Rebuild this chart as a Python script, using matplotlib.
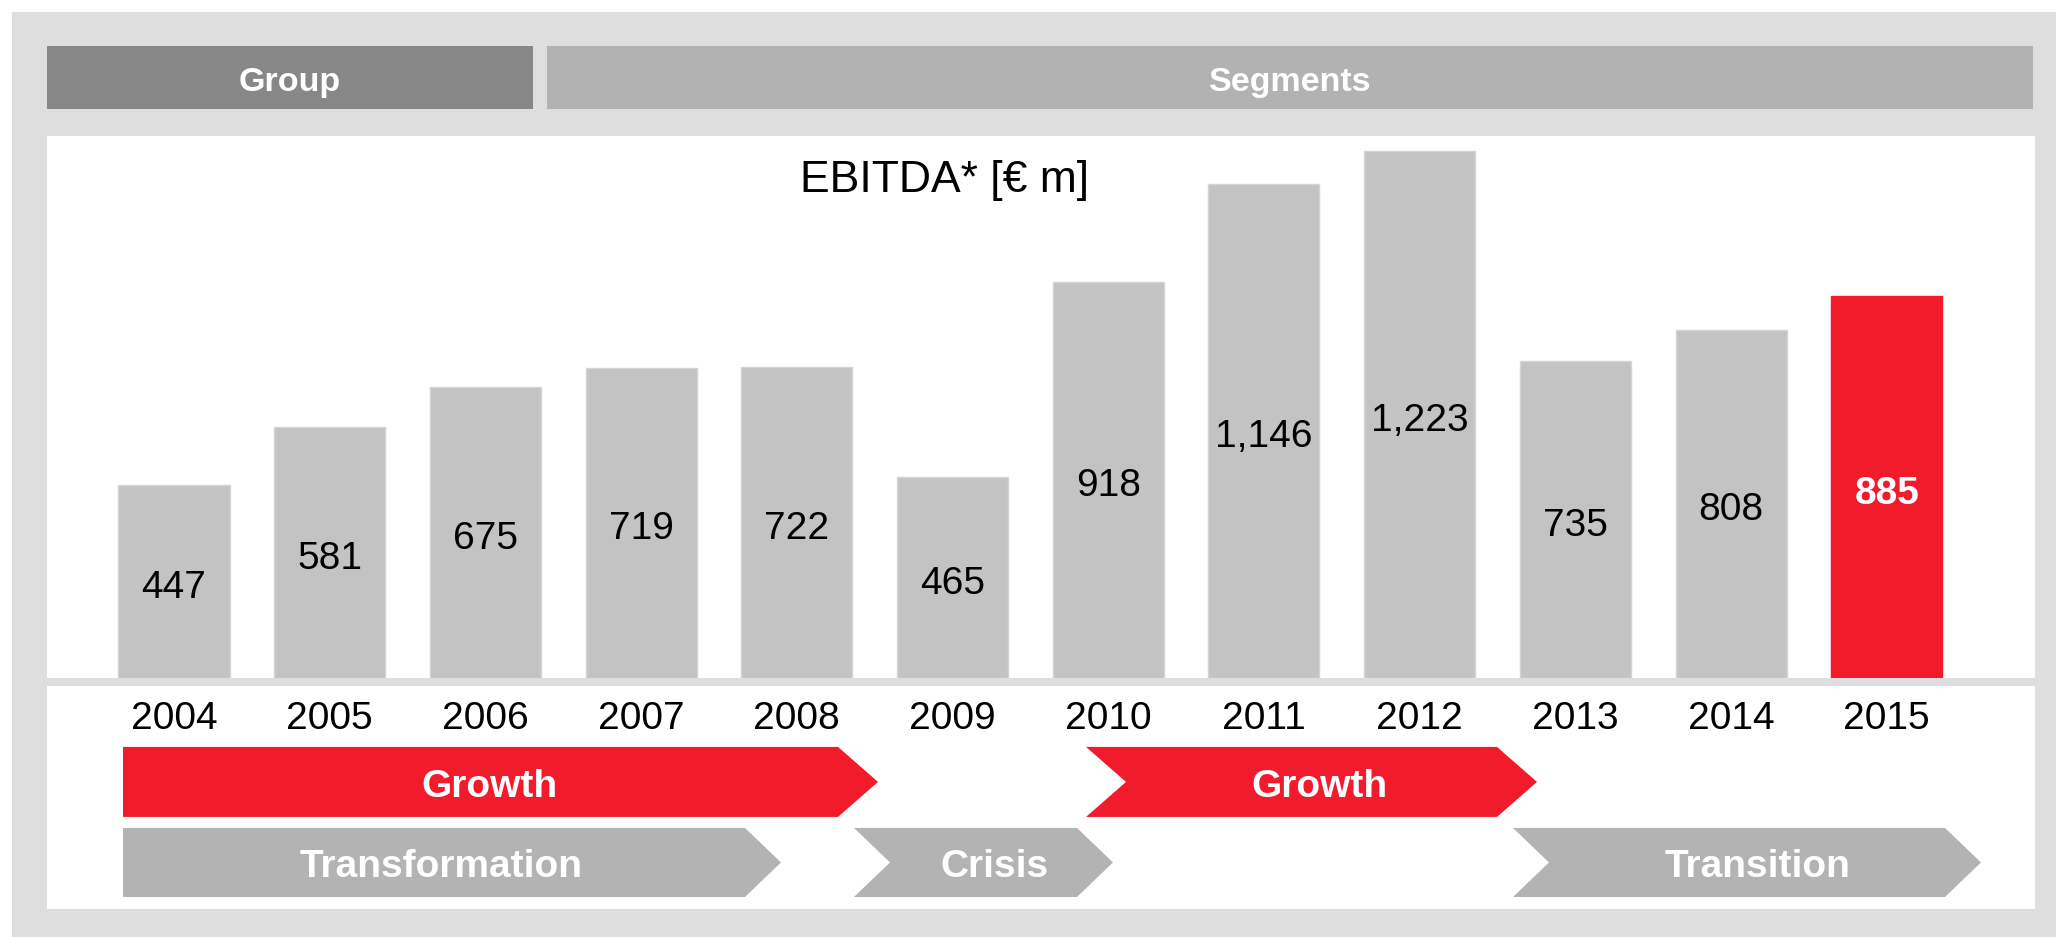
import matplotlib.pyplot as plt
from matplotlib.patches import Rectangle, Polygon
from matplotlib import transforms

plt.rcParams['font.family'] = ['Liberation Sans', 'DejaVu Sans']

# data
years = ["2004", "2005", "2006", "2007", "2008", "2009",
         "2010", "2011", "2012", "2013", "2014", "2015"]
ebitda = [447, 581, 675, 719, 722, 465, 918, 1146, 1223, 735, 808, 885]
highlight = "2015"

header_labels = ["Group", "Segments"]
title = "EBITDA* [€ m]"

top_phases = ["Growth", "Growth"]
bottom_phases = ["Transformation", "Crisis", "Transition"]

# colours
RED = "#F11B2C"
BAR_GREY = "#C3C3C3"
FRAME = "#DEDEDE"
ARROW_GREY = "#B3B3B3"

W, H = 2056, 937
fig = plt.figure(figsize=(W / 100, 9.375), dpi=100)

# background layer in pixel coordinates (y downwards)
bg = fig.add_axes([0, 0, 1, 1])
bg.set_xlim(0, W)
bg.set_ylim(H, 0)
bg.axis("off")

bg.add_patch(Rectangle((12, 12), W - 12, H - 12, color=FRAME, lw=0))
bg.add_patch(Rectangle((47, 46), 486, 63, color="#878787", lw=0))
bg.add_patch(Rectangle((547, 46), 1486, 63, color="#B2B2B2", lw=0))
bg.add_patch(Rectangle((47, 136), 1988, 542, color="white", lw=0))
bg.add_patch(Rectangle((47, 686), 1988, 223, color="white", lw=0))

for lab, cx in zip(header_labels, [290, 1290]):
    bg.text(cx, 91, lab, ha="center", va="baseline", color="white",
            fontsize=24.5, fontweight="bold")

bg.text(944, 192, title, ha="center", va="baseline", fontsize=32)


def chevron(x0, x1, y0, y1, notch, tip=36):
    ym = (y0 + y1) / 2
    pts = [(x0, y0), (x1, y0), (x1 + tip, ym), (x1, y1), (x0, y1)]
    if notch:
        pts.append((x0 + tip, ym))
    return pts


# phase arrows: (x_start, x_body_end, notched, text_x)
top_geom = [(123, 838, False, 489), (1086, 1497, True, 1319)]
bottom_geom = [(123, 745, False, 441), (854, 1077, True, 994), (1513, 1945, True, 1758)]

for lab, (x0, x1, notch, tx) in zip(top_phases, top_geom):
    bg.add_patch(Polygon(chevron(x0, x1, 747, 817, notch, tip=40), color=RED, lw=0))
    bg.text(tx, 797, lab, ha="center", va="baseline", color="white",
            fontsize=28, fontweight="bold")

for lab, (x0, x1, notch, tx) in zip(bottom_phases, bottom_geom):
    bg.add_patch(Polygon(chevron(x0, x1, 828, 897, notch), color=ARROW_GREY, lw=0))
    bg.text(tx, 877, lab, ha="center", va="baseline", color="white",
            fontsize=28, fontweight="bold")

# bar chart
ax = fig.add_axes([47 / W, 1 - 678 / H, (2035 - 47) / W, (678 - 136) / H])
ax.patch.set_visible(False)
ax.axis("off")
x = list(range(len(years)))
colors = [RED if y == highlight else BAR_GREY for y in years]
edges = [RED if y == highlight else "#D4D4D4" for y in years]
ax.bar(x, ebitda, width=0.713, color=colors, edgecolor=edges, linewidth=1)
ax.set_xlim(-0.8157, 11.952)
ax.set_ylim(0, 1258)

for xi, v, y in zip(x, ebitda, years):
    hl = y == highlight
    ax.annotate(f"{v:,}", (xi, v / 2), xytext=(0, -11.5), textcoords="offset points",
                ha="center", va="baseline", fontsize=28,
                color="white" if hl else "black",
                fontweight="bold" if hl else "normal")

# year labels under the separator
blend = transforms.blended_transform_factory(ax.transData, bg.transData)
for xi, y in zip(x, years):
    ax.text(xi, 729, y, transform=blend, ha="center", va="baseline", fontsize=28)

fig.savefig("out.png", dpi=100)
